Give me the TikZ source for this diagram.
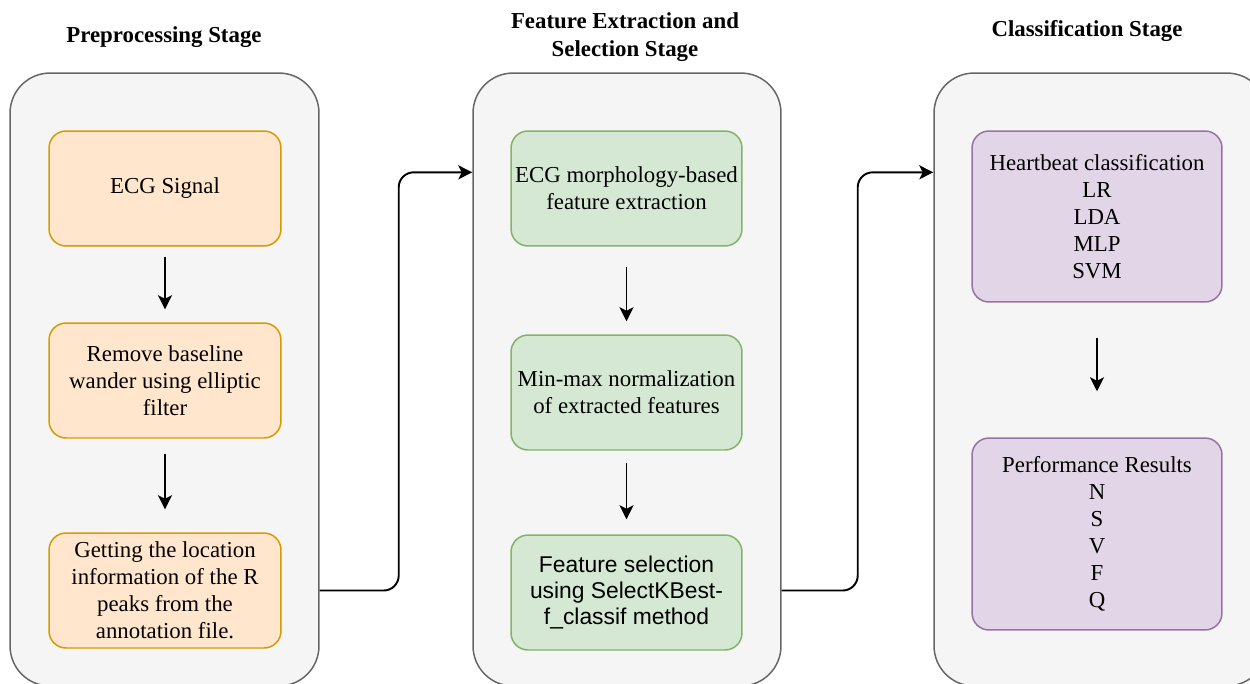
\documentclass[tikz,border=0pt]{standalone}
\usepackage{fontspec}
\setmainfont{Liberation Serif}
\newfontfamily\arialfont{Liberation Sans}
\usepackage{tikz}
\usetikzlibrary{positioning}
\usetikzlibrary{calc}
\usetikzlibrary{arrows.meta}

\definecolor{panelfill}{HTML}{F5F5F5}
\definecolor{paneldraw}{HTML}{666666}
\definecolor{orangefill}{HTML}{FFE6CC}
\definecolor{orangedraw}{HTML}{D79B00}
\definecolor{greenfill}{HTML}{D5E8D4}
\definecolor{greendraw}{HTML}{82B366}
\definecolor{purplefill}{HTML}{E1D5E7}
\definecolor{purpledraw}{HTML}{9673A6}

\tikzset{
	panel/.style={draw=paneldraw, fill=panelfill, line width=0.85pt, rounded corners=0.8cm, minimum height=12.26cm},
	box/.style={rounded corners=0.34cm, line width=0.85pt, minimum height=2.3cm, inner xsep=1pt, align=center, font=\fontsize{13}{15.3}\selectfont},
	prebox/.style={box, draw=orangedraw, fill=orangefill, minimum width=4.64cm},
	febox/.style={box, draw=greendraw, fill=greenfill, minimum width=4.62cm},
	clbox/.style={box, draw=purpledraw, fill=purplefill, minimum width=5cm},
	title/.style={align=center, font=\fontsize{13}{15.8}\selectfont\bfseries},
	flow/.style={-{Stealth[length=0.28cm, width=0.28cm, inset=0.07cm]}, line width=1.1pt},
	link/.style={flow, rounded corners=0.3cm}
}

\begin{document}
\begin{tikzpicture}[x=0.02cm, y=-0.02cm]
	\useasboundingbox (0,0) rectangle (1250,683);
	\clip (0,0) rectangle (1250,683);

	% stage titles
	\node[title] (t1) at (164,37) {Preprocessing Stage};
	\node[title] (t2) at (625,37) {Feature Extraction and\\Selection Stage};
	\node[title] (t3) at (1087,31) {Classification Stage};

	% stage panels
	\node[panel, minimum width=6.18cm] (pre) at (164.5,379.5) {};
	\node[panel, minimum width=6.16cm] (fe) at (627,379.5) {};
	\node[panel, minimum width=6.66cm] (cl) at (1100.5,379.5) {};

	% preprocessing
	\node[prebox] (ecg) at (165,188.5) {ECG Signal};
	\node[prebox] (rbw) at (165,380.5) {Remove baseline\\wander using elliptic\\filter};
	\node[prebox] (rpk) at (165,590.5) {Getting the location\\information of the R\\peaks from the\\annotation file.};

	% feature extraction and selection
	\node[febox] (morph) at (626.5,188.5) {ECG morphology-based\\feature extraction};
	\node[febox] (norm) at (626.5,392.5) {Min-max normalization\\of extracted features};
	\node[febox, font=\fontsize{13}{15}\arialfont] (fsel) at (626.5,592.5) {Feature selection\\using SelectKBest-\\f\_classif method};

	% classification
	\node[clbox, minimum height=3.42cm] (hbc) at (1097,216.5) {Heartbeat classification\\LR\\LDA\\MLP\\SVM};
	\node[clbox, minimum height=3.84cm] (perf) at (1097,534) {Performance Results\\N\\S\\V\\F\\Q};

	% arrows inside the panels
	\draw[flow, shorten <=0.2cm, shorten >=0.26cm] (ecg) -- (rbw);
	\draw[flow, shorten <=0.3cm, shorten >=0.46cm] (rbw) -- (rpk);
	\draw[flow, shorten <=0.4cm, shorten >=0.26cm] (morph) -- (norm);
	\draw[flow, shorten <=0.24cm, shorten >=0.3cm] (norm) -- (fsel);
	\draw[flow, shorten <=0.7cm, shorten >=0.92cm] (hbc) -- (perf);

	% arrows between the panels
	\draw[link] (pre.east |- rpk) -- ++(79,0) |- ($(fe.north west)+(0,100)$);
	\draw[link] (fe.east |- rpk) -- ++(76,0) |- ($(cl.north west)+(0,100)$);
\end{tikzpicture}
\end{document}
